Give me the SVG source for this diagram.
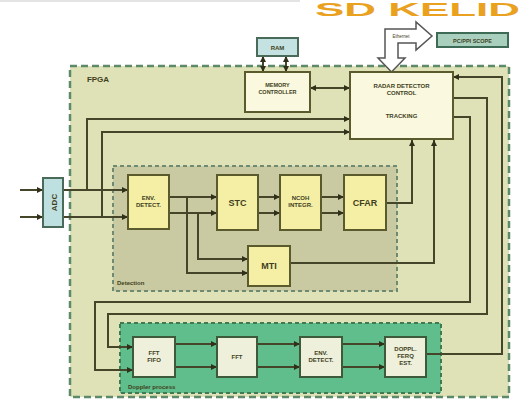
<svg xmlns="http://www.w3.org/2000/svg" width="522" height="416" viewBox="0 0 522 416">
<style>
text{font-family:"Liberation Sans","DejaVu Sans",sans-serif;font-weight:bold;fill:#3f3f20;text-anchor:middle}
.ln{fill:none;stroke:#45452a;stroke-width:2}
.yb{fill:#f5efa6;stroke:#5b5a2c;stroke-width:2}
.gb{fill:#eef0dc;stroke:#3d5a3a;stroke-width:2}
.cb{fill:#fbf8e0;stroke:#5b5a2c;stroke-width:2}
.t6{font-size:6px}
.t9{font-size:9px}
.lbl{font-size:7px;text-anchor:start}
</style>
<defs>
<marker id="ah" markerUnits="userSpaceOnUse" markerWidth="7" markerHeight="6" refX="6" refY="3" orient="auto-start-reverse">
<path d="M0 0 L6 3 L0 6 Z" fill="#2f2f1a"/>
</marker>
</defs>
<rect width="522" height="416" fill="#ffffff"/>
<rect x="0" y="0" width="300" height="2" fill="#e4e4e4"/>
<text x="315" y="15.5" style="font-size:19px;fill:#e9a11f;text-anchor:start" textLength="205" lengthAdjust="spacingAndGlyphs">SD KELID</text>

<g id="fpga">
<rect x="70" y="66" width="439" height="331" fill="#dfe2b7" stroke="#5d8a6a" stroke-width="2.5" stroke-dasharray="7 4"/>
<text class="t9" x="98" y="82" style="font-size:8px">FPGA</text>
</g>
<g id="detection">
<rect x="113" y="166" width="284" height="125" fill="#c9caa2" stroke="#6e8a72" stroke-width="2" stroke-dasharray="4 3"/>
<text class="lbl" x="117" y="285" style="font-size:6px">Detection</text>
</g>
<g id="doppler">
<rect x="120" y="323" width="321" height="70" fill="#60be8c" stroke="#3f7a55" stroke-width="2" stroke-dasharray="4 3"/>
<text class="lbl" x="128" y="389" style="font-size:6px">Doppler process</text>
</g>

<g id="connectors">
<path class="ln" d="M20 190 H43" marker-end="url(#ah)"/>
<path class="ln" d="M20 217 H43" marker-end="url(#ah)"/>
<path class="ln" d="M63 190 H128" marker-end="url(#ah)"/>
<path class="ln" d="M63 217 H128" marker-end="url(#ah)"/>
<path class="ln" d="M87 190 V119 H350" marker-end="url(#ah)"/>
<path class="ln" d="M102 217 V132 H350" marker-end="url(#ah)"/>
<path class="ln" d="M169 197 H217" marker-end="url(#ah)"/>
<path class="ln" d="M169 213 H217" marker-end="url(#ah)"/>
<path class="ln" d="M187 197 V273 H248" marker-end="url(#ah)"/>
<path class="ln" d="M198 213 V259 H248" marker-end="url(#ah)"/>
<path class="ln" d="M258 197 H280" marker-end="url(#ah)"/>
<path class="ln" d="M258 213 H280" marker-end="url(#ah)"/>
<path class="ln" d="M321 197 H344" marker-end="url(#ah)"/>
<path class="ln" d="M321 213 H344" marker-end="url(#ah)"/>
<path class="ln" d="M386 203 H412 V140" marker-end="url(#ah)"/>
<path class="ln" d="M290 263 H434 V140" marker-end="url(#ah)"/>
<path class="ln" d="M453 98 H487 V314 H108 V347 H133" marker-end="url(#ah)"/>
<path class="ln" d="M453 117 H470 V302 H95 V370 H133" marker-end="url(#ah)"/>
<path class="ln" d="M175 344 H217" marker-end="url(#ah)"/>
<path class="ln" d="M175 367 H217" marker-end="url(#ah)"/>
<path class="ln" d="M257 344 H300" marker-end="url(#ah)"/>
<path class="ln" d="M257 367 H300" marker-end="url(#ah)"/>
<path class="ln" d="M342 344 H385" marker-end="url(#ah)"/>
<path class="ln" d="M342 367 H385" marker-end="url(#ah)"/>
<path class="ln" d="M426 354 H502 V77 H453" marker-end="url(#ah)"/>
<path class="ln" d="M263 56 V72" marker-start="url(#ah)" marker-end="url(#ah)"/>
<path class="ln" d="M286 56 V72" marker-start="url(#ah)" marker-end="url(#ah)"/>
<path class="ln" d="M310 88 H350" marker-start="url(#ah)" marker-end="url(#ah)"/>
<path d="M385 29 H416 V22 L432 36 L416 50 V43 H398 V58 H405 L391.5 72 L378 58 H385 Z" fill="#ffffff" stroke="#555555" stroke-width="1.5"/>
<text x="401" y="38" style="font-size:4.5px;font-weight:normal">Ethernet</text>
</g>

<g id="ram">
<rect x="257" y="38" width="41" height="18" fill="#c5e2e2" stroke="#4a6a5a" stroke-width="2"/>
<text class="t6" x="277.5" y="49.5">RAM</text>
</g>
<g id="scope">
<rect x="437" y="33" width="71" height="14" fill="#a9cfbf" stroke="#3d6b55" stroke-width="2"/>
<text class="t6" x="472.5" y="42.5" style="font-size:5.5px">PC/PPI SCOPE</text>
</g>
<g id="memctrl">
<rect class="cb" x="245" y="72" width="65" height="40"/>
<text class="t6" x="277.5" y="87" style="font-size:5.5px">MEMORY</text>
<text class="t6" x="277.5" y="94" style="font-size:5.5px">CONTROLLER</text>
</g>
<g id="radar">
<rect class="cb" x="350" y="72" width="103" height="67"/>
<text class="t6" x="401.5" y="88">RADAR DETECTOR</text>
<text class="t6" x="401.5" y="95">CONTROL</text>
<text class="t6" x="401.5" y="118">TRACKING</text>
</g>
<g id="adc">
<rect x="43" y="178" width="20" height="49" fill="#bfe0e0" stroke="#4a6a5a" stroke-width="2"/>
<text class="t9" x="0" y="0" transform="translate(56.5 202.5) rotate(-90)" style="font-size:8px">ADC</text>
</g>
<g id="envdetect">
<rect class="yb" x="128" y="175" width="41" height="54"/>
<text class="t6" x="148.5" y="200">ENV.</text>
<text class="t6" x="148.5" y="207">DETECT.</text>
</g>
<g id="stc">
<rect class="yb" x="217" y="175" width="41" height="55"/>
<text class="t9" x="237.5" y="206">STC</text>
</g>
<g id="ncoh">
<rect class="yb" x="280" y="175" width="41" height="55"/>
<text class="t6" x="300.5" y="200">NCOH</text>
<text class="t6" x="300.5" y="207">INTEGR.</text>
</g>
<g id="cfar">
<rect class="yb" x="344" y="175" width="42" height="55"/>
<text class="t9" x="365" y="206">CFAR</text>
</g>
<g id="mti">
<rect class="yb" x="248" y="246" width="42" height="40"/>
<text class="t9" x="269" y="269">MTI</text>
</g>
<g id="fftfifo">
<rect class="gb" x="133" y="337" width="42" height="40"/>
<text class="t6" x="154" y="355">FFT</text>
<text class="t6" x="154" y="362">FIFO</text>
</g>
<g id="fft">
<rect class="gb" x="217" y="337" width="40" height="40"/>
<text class="t6" x="237" y="359">FFT</text>
</g>
<g id="envdetect2">
<rect class="gb" x="300" y="337" width="42" height="40"/>
<text class="t6" x="321" y="355">ENV.</text>
<text class="t6" x="321" y="362">DETECT.</text>
</g>
<g id="doppl">
<rect class="gb" x="385" y="337" width="41" height="40"/>
<text class="t6" x="405.5" y="351">DOPPL.</text>
<text class="t6" x="405.5" y="358">FERQ</text>
<text class="t6" x="405.5" y="365">EST.</text>
</g>
</svg>
